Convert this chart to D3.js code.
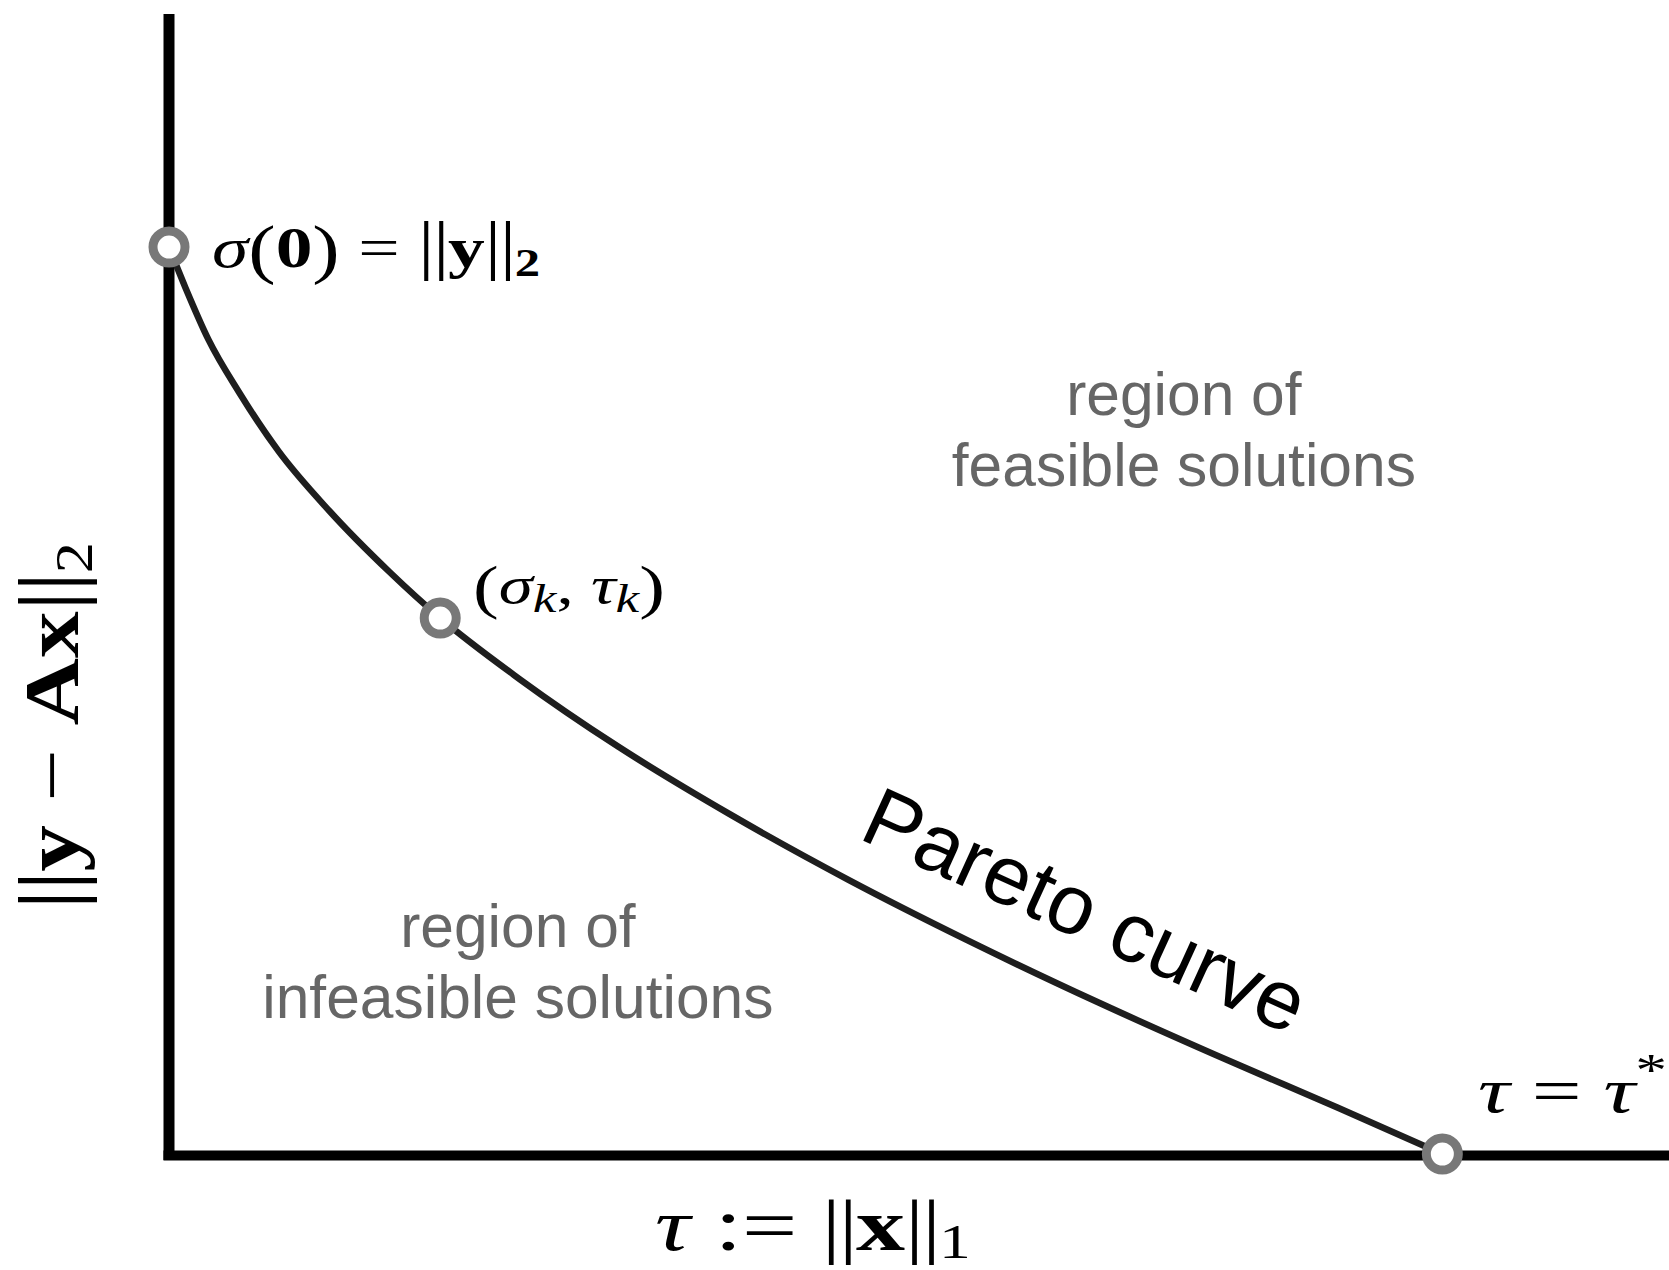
<!DOCTYPE html>
<html>
<head>
<meta charset="utf-8">
<script src="https://cdn.jsdelivr.net/npm/d3@7"></script>
<style>
  html, body { margin: 0; padding: 0; background: #fff; }
  svg { display: block; }
</style>
</head>
<body>
<svg id="chart" width="1669" height="1270"></svg>
<script>
// Pareto curve: residual norm sigma against the one-norm budget tau
const curveTau   = [0, 0.013, 0.031, 0.055, 0.086, 0.126, 0.173, 0.213, 0.275, 0.353, 0.44, 0.534, 0.628, 0.73, 0.832, 0.918, 1.0];
const curveSigma = [1, 0.955, 0.898, 0.84, 0.775, 0.709, 0.642, 0.591, 0.524, 0.449, 0.375, 0.302, 0.235, 0.167, 0.103, 0.051, 0];

// highlighted points: sigma(0), (sigma_k, tau_k), tau = tau*
const markTau   = [0, 0.213, 1];
const markSigma = [1, 0.591, 0];

const regionLabels = [
  { lines: ["region of", "feasible solutions"], tau: 0.797, sigma: 0.815 },
  { lines: ["region of", "infeasible solutions"], tau: 0.274, sigma: 0.228 }
];

const svg = d3.select("#chart");
const W = 1669, H = 1270;

const tauMax = 1.178, sigmaMax = 1.257;
const x = d3.scaleLinear().domain([0, tauMax]).range([169, W]);
const y = d3.scaleLinear().domain([0, sigmaMax]).range([1154, 14]);

const serif = "'Liberation Serif', 'DejaVu Serif', serif";
const sans = "'Liberation Sans', Arial, Helvetica, sans-serif";

// axes
svg.append("line")
  .attr("x1", x(0)).attr("x2", x(0))
  .attr("y1", y(sigmaMax)).attr("y2", y(0) + 6)
  .attr("stroke", "#000").attr("stroke-width", 11);
svg.append("line")
  .attr("x1", x(0) - 5.5).attr("x2", x(tauMax))
  .attr("y1", y(0) + 1.5).attr("y2", y(0) + 1.5)
  .attr("stroke", "#000").attr("stroke-width", 10);

// the curve
const pts = curveTau.map((t, i) => [t, curveSigma[i]]);
const line = d3.line().x(d => x(d[0])).y(d => y(d[1])).curve(d3.curveMonotoneX);
svg.append("path")
  .attr("d", line(pts))
  .attr("fill", "none")
  .attr("stroke", "#1e1e1e")
  .attr("stroke-width", 6.5)
  .attr("stroke-linecap", "round")
  .attr("stroke-linejoin", "round");

// ring markers
svg.selectAll("circle.mark")
  .data(markTau.map((t, i) => [t, markSigma[i]]))
  .join("circle")
  .attr("class", "mark")
  .attr("cx", d => x(d[0]))
  .attr("cy", d => y(d[1]))
  .attr("r", 16)
  .attr("fill", "#fff")
  .attr("stroke", "#787878")
  .attr("stroke-width", 9);

// math label built from tspans, stretched horizontally to a given width
function mathLabel(parts, opt) {
  const g = svg.append("g");
  const t = g.append("text")
    .attr("font-family", serif)
    .attr("font-size", opt.size)
    .attr("fill", "#000");
  parts.forEach(p => {
    const s = t.append("tspan").text(p.t);
    if (p.i) s.attr("font-style", "italic");
    if (p.b) s.attr("font-weight", "bold");
    if (p.fs) s.attr("font-size", p.fs);
    if (p.dy) s.attr("dy", p.dy);
    if (p.dx) s.attr("dx", p.dx);
    if (p.ls) s.attr("letter-spacing", p.ls);
  });
  const w = t.node().getBBox().width;
  const k = opt.width ? opt.width / w : 1;
  g.attr("transform", `translate(${opt.x},${opt.y})` + (opt.rotate ? ` rotate(${opt.rotate})` : "") + ` scale(${k},1)`);
  return g;
}

// delimiters are set a little taller than the body text
const bar = (s, f = 1.12) => ({ t: "||", fs: s * f, ls: -s * 0.02 });
const par = (c, s, shift) => ({ t: c, fs: s * 1.12, dy: shift });

// sigma(0) = ||y||_2
mathLabel([
  { t: "σ", i: true }, par("(", 58, 4), { t: "0", b: true, dy: -4 }, par(")", 58, 4),
  { t: " = ", dy: -4 }, bar(58), { t: "y", b: true }, bar(58),
  { t: "2", b: true, fs: 40, dy: 9 }
], { x: 212, y: 267, size: 58, width: 328 });

// (sigma_k, tau_k)
mathLabel([
  par("(", 52, 4), { t: "σ", i: true, dy: -4 }, { t: "k", i: true, fs: 40, dy: 9 },
  { t: ", ", dy: -9 }, { t: "τ", i: true }, { t: "k", i: true, fs: 40, dy: 9 },
  par(")", 52, -5)
], { x: 473, y: 603, size: 52, width: 192 });

// tau = tau*
mathLabel([
  { t: "τ", i: true }, { t: " = " }, { t: "τ", i: true },
  { t: "*", fs: 46, dy: -26 }
], { x: 1478, y: 1112, size: 64, width: 189 });

// x axis title
mathLabel([
  { t: "τ", i: true }, { t: " := " }, bar(74, 0.97), { t: "x", b: true }, bar(74, 0.97),
  { t: "1", fs: 48, dy: 8 }
], { x: 655, y: 1250, size: 74, width: 316 });

// y axis title
mathLabel([
  bar(78), { t: "y", b: true }, { t: " − " }, { t: "A", b: true }, { t: "x", b: true },
  bar(78), { t: "2", fs: 52, dy: 14 }
], { x: 78, y: 910, size: 78, width: 368, rotate: -90 });

// region annotations
regionLabels.forEach(r => {
  const t = svg.append("text")
    .attr("font-family", sans)
    .attr("font-size", 60.5)
    .attr("fill", "#666")
    .attr("text-anchor", "middle")
    .attr("x", x(r.tau))
    .attr("y", y(r.sigma));
  r.lines.forEach((l, i) => {
    t.append("tspan").attr("x", x(r.tau)).attr("dy", i ? 71 : 0).text(l);
  });
});

// curve name, set along the curve
svg.append("text")
  .attr("font-family", sans)
  .attr("font-size", 84)
  .attr("fill", "#000")
  .attr("transform", "translate(857,838) rotate(24.5)")
  .text("Pareto curve");
</script>
</body>
</html>
